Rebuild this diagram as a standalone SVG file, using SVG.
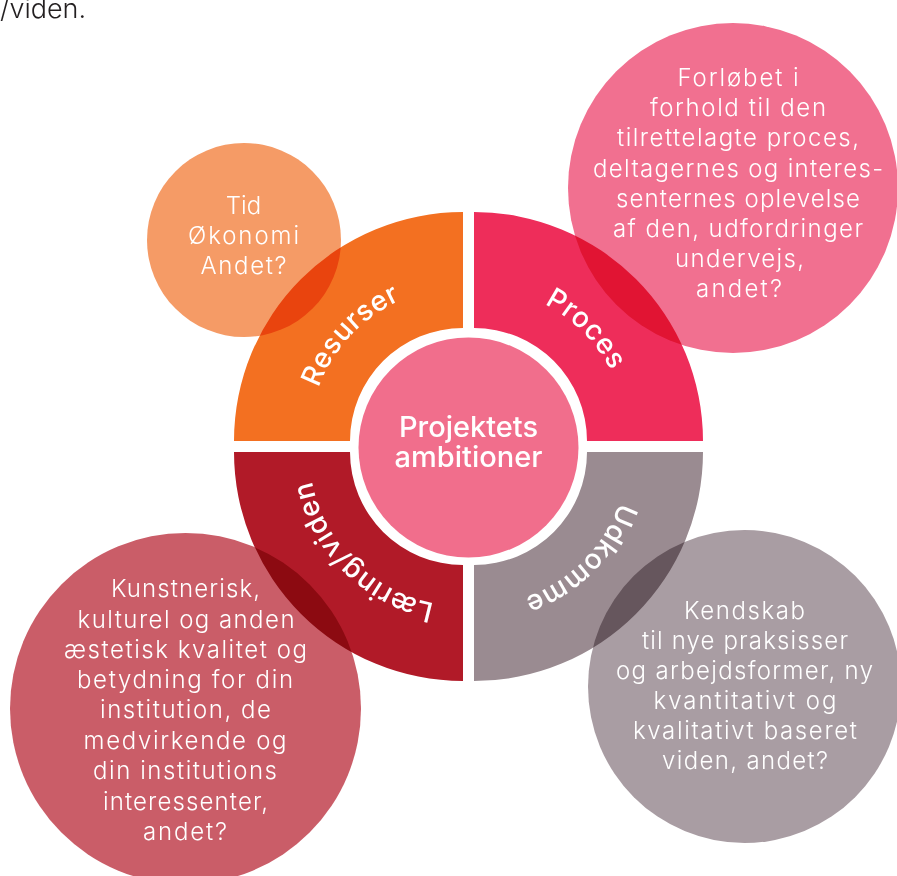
<svg xmlns="http://www.w3.org/2000/svg" width="897" height="876" viewBox="0 0 897 876">
<defs>
<style>
.lbl{font-family:Inter,"Noto Sans","Liberation Sans",sans-serif;font-weight:500;fill:#fff;font-size:28px;letter-spacing:0.5px}
.ctr{font-family:Inter,"Noto Sans","Liberation Sans",sans-serif;font-weight:500;fill:#fff;font-size:29px;text-anchor:middle}
.txt{font-family:Inter,"Noto Sans","Liberation Sans",sans-serif;font-weight:300;fill:#fff;font-size:24px;text-anchor:middle}
.bub{mix-blend-mode:multiply}
</style>
<path id="pOrange" d="M309,441 A154,154 0 0 1 463,287"/>
<path id="pPink" d="M474,287 A154,154 0 0 1 628,441"/>
<path id="pGrey" d="M628,452 A154,154 0 0 1 474,606"/>
<path id="pRed" d="M463,606 A154,154 0 0 1 309,452"/>
</defs>
<rect width="897" height="876" fill="#fff"/>
<text x="0" y="18" style="font-family:Inter,'Noto Sans','Liberation Sans',sans-serif;font-weight:300;font-size:27px;fill:#231F20">/viden.</text>

<g id="ring">
<g id="q-resurser"><path d="M234,441 A229,229 0 0 1 463,212 L463,328 A113,113 0 0 0 350,441 Z" fill="#F37021"/></g>
<g id="q-proces"><path d="M474,212 A229,229 0 0 1 703,441 L587,441 A113,113 0 0 0 474,328 Z" fill="#EE2D5A"/></g>
<g id="q-udkomme"><path d="M703,452 A229,229 0 0 1 474,681 L474,565 A113,113 0 0 0 587,452 Z" fill="#9A8B91"/></g>
<g id="q-laering"><path d="M463,681 A229,229 0 0 1 234,452 L350,452 A113,113 0 0 0 463,565 Z" fill="#B11A28"/></g>
</g>

<g id="center">
<circle cx="468.5" cy="447.5" r="110" fill="#F16E8C"/>
<text class="ctr" x="468.5" y="437">Projektets</text>
<text class="ctr" x="468.5" y="467">ambitioner</text>
</g>

<g id="c-ressourcer">
<circle class="bub" cx="244" cy="240" r="97" fill="#F59B66"/>
<text class="txt" x="243.5" y="214">Tid</text>
<text class="txt" x="243.5" y="244" textLength="111" lengthAdjust="spacing">Økonomi</text>
<text class="txt" x="243.5" y="274" textLength="86">Andet?</text>
</g>

<g id="c-proces">
<circle class="bub" cx="733" cy="188" r="165" fill="#F17090"/>
<text class="txt" x="738" y="86" textLength="121">Forløbet i</text>
<text class="txt" x="738" y="116" textLength="176">forhold til den</text>
<text class="txt" x="738" y="146" textLength="242">tilrettelagte proces,</text>
<text class="txt" x="738" y="176.5" textLength="290">deltagernes og interes-</text>
<text class="txt" x="738" y="206.5" textLength="244">senternes oplevelse</text>
<text class="txt" x="738" y="236.5" textLength="250">af den, udfordringer</text>
<text class="txt" x="739.5" y="266.5" textLength="129">undervejs,</text>
<text class="txt" x="739" y="297" textLength="86">andet?</text>
</g>

<g id="c-laering">
<circle class="bub" cx="185.5" cy="708.5" r="175.5" fill="#CA5D68"/>
<text class="txt" x="185.5" y="597" textLength="149">Kunstnerisk,</text>
<text class="txt" x="186" y="628" textLength="217">kulturel og anden</text>
<text class="txt" x="185.5" y="658" textLength="243">æstetisk kvalitet og</text>
<text class="txt" x="185" y="688" textLength="216">betydning for din</text>
<text class="txt" x="185.5" y="718" textLength="171">institution, de</text>
<text class="txt" x="185" y="749" textLength="203">medvirkende og</text>
<text class="txt" x="185" y="779" textLength="184">din institutions</text>
<text class="txt" x="185.5" y="810" textLength="165">interessenter,</text>
<text class="txt" x="185" y="840" textLength="84">andet?</text>
</g>

<g id="c-udkomme">
<circle class="bub" cx="744.5" cy="686.5" r="156.5" fill="#A99DA3"/>
<text class="txt" x="744.5" y="619" textLength="121">Kendskab</text>
<text class="txt" x="745" y="649" textLength="206">til nye praksisser</text>
<text class="txt" x="744.5" y="679" textLength="257">og arbejdsformer, ny</text>
<text class="txt" x="745" y="709" textLength="183">kvantitativt og</text>
<text class="txt" x="745" y="739" textLength="224">kvalitativt baseret</text>
<text class="txt" x="745" y="769" textLength="166">viden, andet?</text>
</g>

<g id="ring-labels">
<text class="lbl"><textPath href="#pOrange" startOffset="48%" text-anchor="middle">Resurser</textPath></text>
<text class="lbl"><textPath href="#pPink" startOffset="50%" text-anchor="middle">Proces</textPath></text>
<text class="lbl"><textPath href="#pGrey" startOffset="50%" text-anchor="middle">Udkomme</textPath></text>
<text class="lbl"><textPath href="#pRed" startOffset="50%" text-anchor="middle">Læring/viden</textPath></text>
</g>
</svg>
